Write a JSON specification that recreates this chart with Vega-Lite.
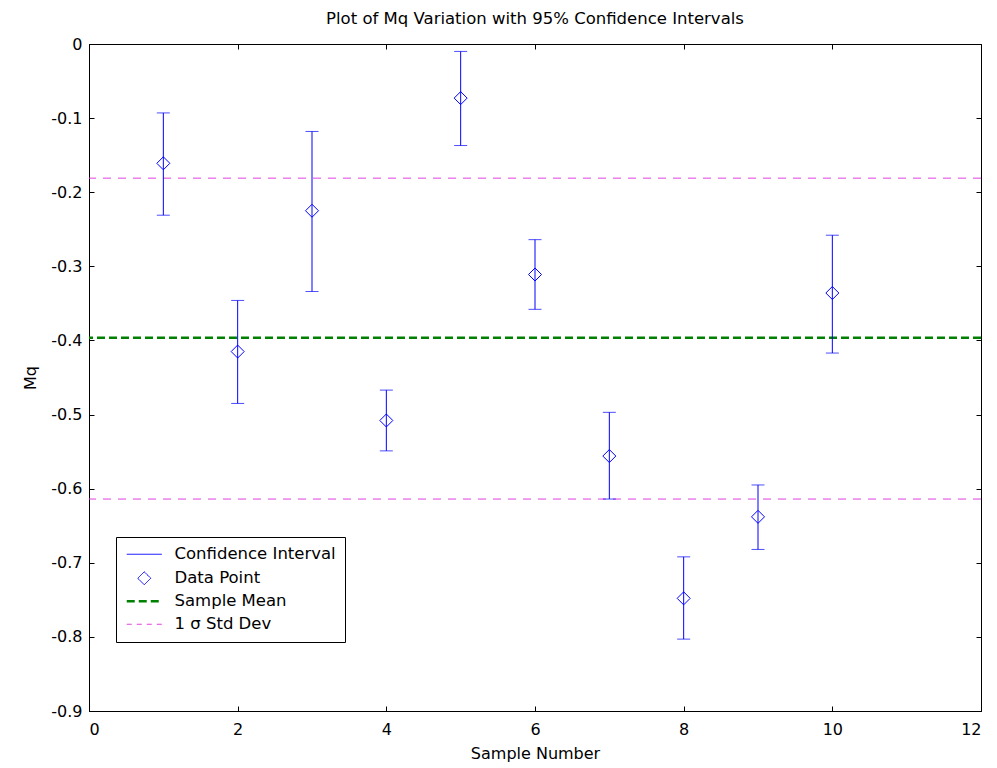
{
  "$schema": "https://vega.github.io/schema/vega-lite/v6.json",
  "autosize": "none",
  "width": 892,
  "height": 667,
  "padding": {"left": 89, "top": 44, "right": 16, "bottom": 57},
  "background": "white",
  "config": {
    "font": "DejaVu Sans",
    "view": {"stroke": "black", "strokeWidth": 1},
    "axis": {"grid": false, "domainColor": "black", "tickColor": "black", "labelColor": "black", "titleColor": "black", "labelFont": "DejaVu Sans", "titleFont": "DejaVu Sans", "labelFontSize": 16, "titleFontSize": 16, "titleFontWeight": "normal", "tickSize": -5}
  },
  "title": {"text": "Plot of Mq Variation with 95% Confidence Intervals", "fontSize": 16.5, "fontWeight": "normal", "font": "DejaVu Sans", "color": "black", "offset": 9},
  "datasets": {
    "samples": [
      {"sample": 1, "value": -0.161, "lower": -0.231, "upper": -0.093},
      {"sample": 2, "value": -0.415, "lower": -0.485, "upper": -0.346},
      {"sample": 3, "value": -0.225, "lower": -0.334, "upper": -0.118},
      {"sample": 4, "value": -0.508, "lower": -0.549, "upper": -0.467},
      {"sample": 5, "value": -0.073, "lower": -0.137, "upper": -0.010},
      {"sample": 6, "value": -0.311, "lower": -0.358, "upper": -0.264},
      {"sample": 7, "value": -0.556, "lower": -0.614, "upper": -0.497},
      {"sample": 8, "value": -0.748, "lower": -0.803, "upper": -0.692},
      {"sample": 9, "value": -0.638, "lower": -0.682, "upper": -0.595},
      {"sample": 10, "value": -0.336, "lower": -0.417, "upper": -0.258}
    ],
    "lines": [
      {"series": "Sample Mean", "y": -0.3965},
      {"series": "1 σ Std Dev", "y": -0.181},
      {"series": "1 σ Std Dev", "y": -0.614}
    ]
  },
  "layer": [
    {
      "data": {"name": "lines"},
      "mark": {"type": "rule"},
      "encoding": {
        "y": {"field": "y", "type": "quantitative", "scale": {"domain": [-0.9, 0], "nice": false, "zero": false},
              "axis": {"title": "Mq", "values": [0, -0.1, -0.2, -0.3, -0.4, -0.5, -0.6, -0.7, -0.8, -0.9], "labelExpr": "datum.value == 0 ? '0' : '-' + format(abs(datum.value), '.1f')", "labelPadding": 12, "titlePadding": 12}},
        "color": {"field": "series", "type": "nominal",
          "scale": {"domain": ["Confidence Interval", "Data Point", "Sample Mean", "1 σ Std Dev"], "range": ["#0000ff", "#0000ff", "#008000", "#e040e0"]},
          "legend": {"title": null, "orient": "none", "legendX": 27, "legendY": 493, "direction": "vertical",
            "strokeColor": "black", "fillColor": "white", "padding": 9, "labelFontSize": 16.5, "labelFont": "DejaVu Sans", "labelColor": "black", "symbolSize": 169, "rowPadding": 6, "labelOffset": 33, "labelLimit": 300,
            "encode": {
              "symbols": {"update": {
                "shape": {"signal": "datum.value === 'Data Point' ? 'M1.692,-1L2.692,0L1.692,1L0.692,0Z' : 'M-1,0H4.385'"},
                "strokeDash": {"signal": "datum.value === 'Sample Mean' ? [8,4] : (datum.value === '1 σ Std Dev' ? [5,5] : [1,0])"},
                "strokeWidth": {"signal": "datum.value === 'Sample Mean' ? 2.5 : 1"},
                "stroke": {"signal": "scale('color', datum.value)"},
                "fill": {"value": "transparent"},
                "fillOpacity": {"value": 0},
                "size": {"value": 169},
                "opacity": {"value": 1}
              }},
              "labels": {"update": {"text": {"signal": "datum.value === '1 σ Std Dev' ? ' 1 σ Std Dev' : datum.value"}}}
            }}},
        "strokeDash": {"field": "series", "type": "nominal", "scale": {"domain": ["Sample Mean", "1 σ Std Dev"], "range": [[8, 4], [8, 7]]}, "legend": null},
        "strokeWidth": {"field": "series", "type": "nominal", "scale": {"domain": ["Sample Mean", "1 σ Std Dev"], "range": [2.5, 1]}, "legend": null}
      }
    },
    {
      "data": {"name": "samples"},
      "mark": {"type": "rule", "strokeWidth": 1},
      "encoding": {
        "x": {"field": "sample", "type": "quantitative", "scale": {"domain": [0, 12], "nice": false}, "axis": {"title": "Sample Number", "values": [0, 2, 4, 6, 8, 10, 12], "labelPadding": 15, "titlePadding": 8}},
        "y": {"field": "lower", "type": "quantitative", "axis": null},
        "y2": {"field": "upper"},
        "color": {"datum": "Confidence Interval"}
      }
    },
    {
      "data": {"name": "samples"},
      "mark": {"type": "tick", "orient": "horizontal", "size": 13, "thickness": 1},
      "encoding": {
        "x": {"field": "sample", "type": "quantitative", "axis": null},
        "y": {"field": "lower", "type": "quantitative", "axis": null},
        "color": {"datum": "Confidence Interval"}
      }
    },
    {
      "data": {"name": "samples"},
      "mark": {"type": "tick", "orient": "horizontal", "size": 13, "thickness": 1},
      "encoding": {
        "x": {"field": "sample", "type": "quantitative", "axis": null},
        "y": {"field": "upper", "type": "quantitative", "axis": null},
        "color": {"datum": "Confidence Interval"}
      }
    },
    {
      "data": {"name": "samples"},
      "mark": {"type": "point", "shape": "diamond", "filled": false, "size": 169, "strokeWidth": 1, "opacity": 1},
      "encoding": {
        "x": {"field": "sample", "type": "quantitative", "axis": null},
        "y": {"field": "value", "type": "quantitative", "axis": null},
        "color": {"datum": "Data Point"}
      }
    },
    {
      "data": {"name": "samples"},
      "mark": {"type": "point", "opacity": 0},
      "encoding": {
        "x": {"field": "sample", "type": "quantitative", "axis": {"orient": "top", "labels": false, "title": null, "values": [0, 2, 4, 6, 8, 10, 12], "domain": false}},
        "y": {"field": "value", "type": "quantitative", "axis": {"orient": "right", "labels": false, "title": null, "values": [0, -0.1, -0.2, -0.3, -0.4, -0.5, -0.6, -0.7, -0.8, -0.9], "domain": false}}
      }
    }
  ],
  "resolve": {"axis": {"x": "independent", "y": "independent"}}
}
